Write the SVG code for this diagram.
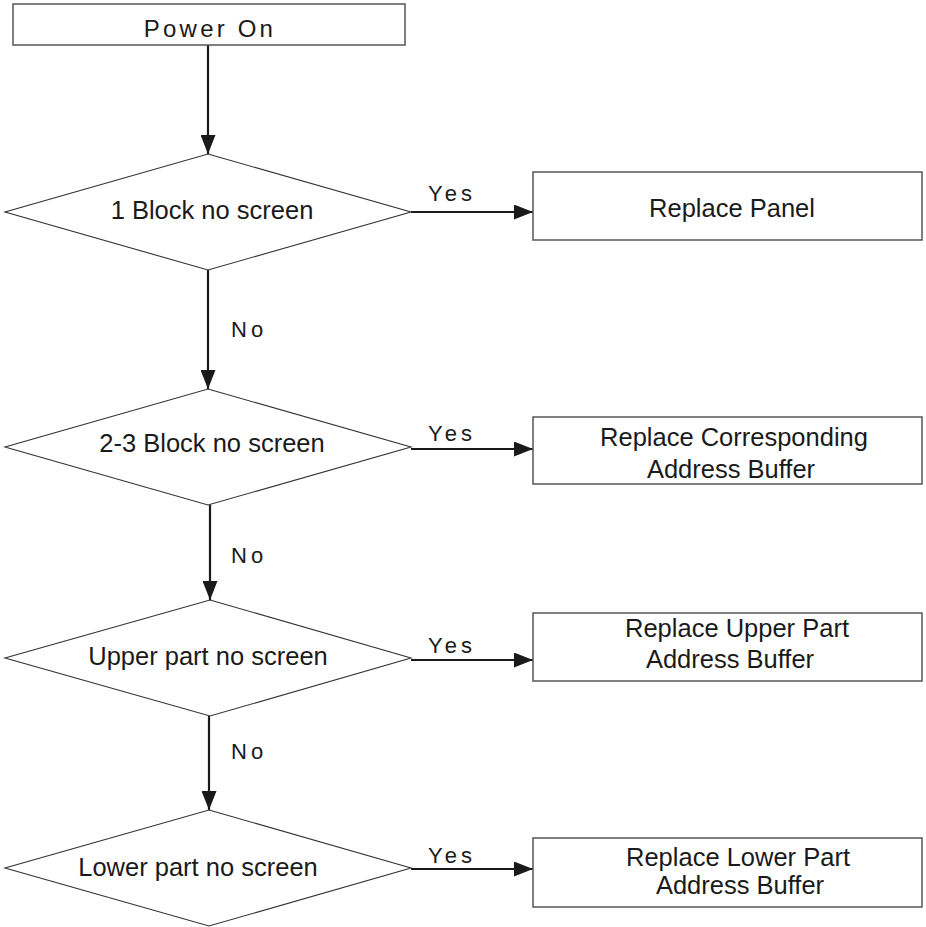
<svg xmlns="http://www.w3.org/2000/svg" width="926" height="927" viewBox="0 0 926 927">
  <style>
    .box { fill: #ffffff; stroke: #555555; stroke-width: 1.5; }
    .dia { fill: #ffffff; stroke: #333333; stroke-width: 1.1; }
    .flow { fill: none; stroke: #1a1a1a; stroke-width: 2.2; marker-end: url(#head); }
    .lbl { font-family: "Liberation Sans", Arial, sans-serif; font-size: 25.5px; fill: #1a1a1a; text-anchor: middle; }
    .sp { font-family: "Liberation Sans", Arial, sans-serif; font-size: 22px; fill: #1a1a1a; letter-spacing: 4px; }
    .title { font-family: "Liberation Sans", Arial, sans-serif; font-size: 24px; fill: #1a1a1a; letter-spacing: 3.2px; text-anchor: middle; }
  </style>
  <defs>
    <marker id="head" markerUnits="userSpaceOnUse" markerWidth="20" markerHeight="15" refX="19" refY="7.5" orient="auto">
      <path d="M0,0 L19,7.5 L0,15 Z" fill="#1a1a1a"/>
    </marker>
  </defs>
  <rect width="926" height="927" fill="#ffffff"/>

  <!-- connectors -->
  <g id="connectors">
    <line class="flow" x1="208" y1="45" x2="208" y2="154"/>
    <line class="flow" x1="411" y1="212" x2="533" y2="212"/>
    <line class="flow" x1="208" y1="270" x2="208" y2="389"/>
    <line class="flow" x1="411" y1="449" x2="533" y2="449"/>
    <line class="flow" x1="210" y1="505" x2="210" y2="600"/>
    <line class="flow" x1="411" y1="660" x2="533" y2="660"/>
    <line class="flow" x1="209" y1="716" x2="209" y2="810"/>
    <line class="flow" x1="411" y1="869" x2="533" y2="869"/>
    <text class="sp" x="428" y="201">Yes</text>
    <text class="sp" x="428" y="441">Yes</text>
    <text class="sp" x="428" y="653">Yes</text>
    <text class="sp" x="428" y="863">Yes</text>
    <text class="sp" x="231" y="337">No</text>
    <text class="sp" x="231" y="563">No</text>
    <text class="sp" x="231" y="759">No</text>
  </g>

  <g id="power-on">
    <rect class="box" x="13" y="4" width="392" height="41"/>
    <text class="title" x="210" y="37">Power On</text>
  </g>

  <g id="q1">
    <polygon class="dia" points="208,154 411,212 208,270 5,212"/>
    <text class="lbl" x="212" y="219">1 Block no screen</text>
  </g>
  <g id="a1">
    <rect class="box" x="533" y="172" width="389" height="68"/>
    <text class="lbl" x="732" y="217">Replace Panel</text>
  </g>

  <g id="q2">
    <polygon class="dia" points="208,389 411,447 208,505 5,447"/>
    <text class="lbl" x="212" y="452">2-3 Block no screen</text>
  </g>
  <g id="a2">
    <rect class="box" x="533" y="417" width="389" height="67"/>
    <text class="lbl" x="734" y="446">Replace Corresponding</text>
    <text class="lbl" x="731" y="478">Address Buffer</text>
  </g>

  <g id="q3">
    <polygon class="dia" points="210,600 411,658 210,716 5,658"/>
    <text class="lbl" x="208" y="665">Upper part no screen</text>
  </g>
  <g id="a3">
    <rect class="box" x="533" y="613" width="389" height="68"/>
    <text class="lbl" x="737" y="637">Replace Upper Part</text>
    <text class="lbl" x="730" y="668">Address Buffer</text>
  </g>

  <g id="q4">
    <polygon class="dia" points="209,810 411,868 209,926 5,868"/>
    <text class="lbl" x="198" y="876">Lower part no screen</text>
  </g>
  <g id="a4">
    <rect class="box" x="533" y="838" width="389" height="69"/>
    <text class="lbl" x="738" y="866">Replace Lower Part</text>
    <text class="lbl" x="740" y="894">Address Buffer</text>
  </g>
</svg>
